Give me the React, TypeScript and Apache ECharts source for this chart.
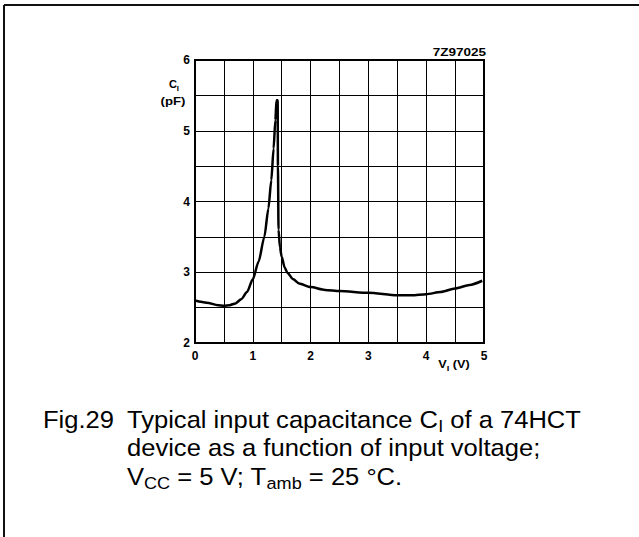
import React, { useEffect, useRef } from "react";
import * as echarts from "echarts";

const voltage = [0, 0.2, 0.4, 0.5, 0.6, 0.7, 0.8, 0.9, 1.0, 1.1, 1.2, 1.27, 1.32, 1.36, 1.39, 1.41, 1.43, 1.435, 1.445, 1.47, 1.5, 1.55, 1.6, 1.7, 1.8, 2.0, 2.25, 2.5, 3.0, 3.5, 3.75, 4.0, 4.25, 4.5, 4.75, 4.97];
const capacitance = [2.6, 2.57, 2.535, 2.527, 2.535, 2.56, 2.62, 2.72, 2.9, 3.15, 3.5, 3.9, 4.3, 4.75, 5.15, 5.43, 5.43, 4.5, 3.6, 3.35, 3.22, 3.07, 2.99, 2.9, 2.84, 2.79, 2.75, 2.735, 2.71, 2.675, 2.675, 2.69, 2.72, 2.77, 2.82, 2.88];
const xTickLabels = ["0", "1", "2", "3", "4", "5"];
const yTickLabels = ["2", "3", "4", "5", "6"];

const tickFont = { fontFamily: "Liberation Sans", fontWeight: "bold" as const, fontSize: 12, color: "#000" };

export default function App() {
  const ref = useRef<HTMLDivElement>(null);
  useEffect(() => {
    document.body.style.margin = "0";
    const chart = echarts.init(ref.current!, undefined, { renderer: "svg" });
    const capFont = "Liberation Sans";
    const main = { font: `24px ${capFont}`, fill: "#000", lineHeight: 30 };
    const sub = { font: `17px ${capFont}`, fill: "#000", verticalAlign: "bottom", lineHeight: 30 };
    const smallMain = { font: "bold 11px Liberation Sans", fill: "#000", lineHeight: 14 };
    const smallSub = { font: "bold 8px Liberation Sans", fill: "#000", verticalAlign: "bottom", lineHeight: 16 };
    const sx = 1.065;
    chart.setOption({
      animation: false,
      backgroundColor: "#fff",
      grid: { left: 195, top: 60, width: 289, height: 283, show: true, borderColor: "#000", borderWidth: 2, backgroundColor: "transparent" },
      xAxis: {
        type: "value", min: 0, max: 5, interval: 0.5,
        axisLine: { show: true, lineStyle: { color: "#000", width: 2 } },
        axisTick: { show: false },
        splitLine: { show: true, lineStyle: { color: "#000", width: 1 } },
        axisLabel: {
          ...tickFont, margin: 7,
          formatter: (v: number) => (Number.isInteger(v) ? xTickLabels[v] : ""),
        },
      },
      yAxis: {
        type: "value", min: 2, max: 6, interval: 0.5,
        axisLine: { show: true, lineStyle: { color: "#000", width: 2 } },
        axisTick: { show: false },
        splitLine: { show: true, lineStyle: { color: "#000", width: 1 } },
        axisLabel: {
          ...tickFont, margin: 5,
          formatter: (v: number) => (Number.isInteger(v) ? yTickLabels[v - 2] : ""),
        },
      },
      series: [{
        type: "line",
        data: voltage.map((v, i) => [v, capacitance[i]]),
        showSymbol: false,
        smooth: 0.25,
        smoothMonotone: "x",
        lineStyle: { color: "#000", width: 2.5 },
      }],
      graphic: [
        { type: "line", shape: { x1: 4, y1: 5, x2: 639, y2: 5 }, style: { stroke: "#111", lineWidth: 2 } },
        { type: "line", shape: { x1: 4, y1: 5, x2: 4, y2: 537 }, style: { stroke: "#111", lineWidth: 2 } },
        { type: "text", x: 486, y: 53, scaleX: 1.35, style: { text: "7Z97025", font: "bold 10px Liberation Sans", fill: "#000", align: "right", verticalAlign: "middle" } },
        {
          type: "text", x: 174, y: 84,
          style: { text: "{m|C}{s|I}", align: "center", verticalAlign: "middle", rich: { m: smallMain, s: smallSub } },
        },
        { type: "text", x: 173, y: 101, scaleX: 1.2, style: { text: "(pF)", font: "bold 11px Liberation Sans", fill: "#000", align: "center", verticalAlign: "middle" } },
        {
          type: "text", x: 454, y: 364, scaleX: 1.15,
          style: { text: "{m|V}{s|I}{m| (V)}", align: "center", verticalAlign: "middle", rich: { m: smallMain, s: smallSub } },
        },
        { type: "text", x: 43, y: 420, scaleX: sx, style: { text: "Fig.29", font: `24px ${capFont}`, fill: "#000", verticalAlign: "middle" } },
        {
          type: "text", x: 127, y: 420, scaleX: sx,
          style: { text: "{m|Typical input capacitance C}{s|I}{m| of a 74HCT}", verticalAlign: "middle", rich: { m: main, s: sub } },
        },
        { type: "text", x: 127, y: 448, scaleX: sx, style: { text: "device as a function of input voltage;", font: `24px ${capFont}`, fill: "#000", verticalAlign: "middle" } },
        {
          type: "text", x: 127, y: 477, scaleX: sx,
          style: { text: "{m|V}{s|CC}{m| = 5 V; T}{s|amb}{m| = 25 °C.}", verticalAlign: "middle", rich: { m: main, s: sub } },
        },
      ],
    });
    return () => chart.dispose();
  }, []);
  return <div ref={ref} style={{ width: 639, height: 537 }} />;
}
